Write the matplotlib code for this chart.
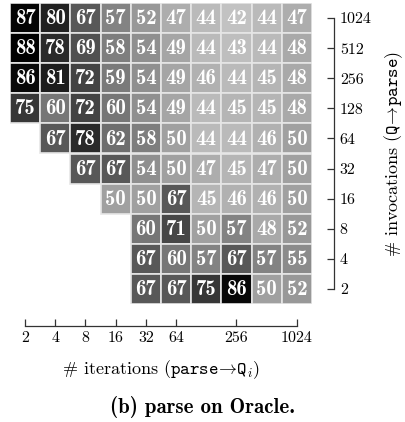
import numpy as np
import matplotlib
matplotlib.use('Agg')
import matplotlib.pyplot as plt

plt.rcParams['font.family'] = 'serif'
plt.rcParams['font.serif'] = ['cmr10']
plt.rcParams['mathtext.fontset'] = 'cm'
plt.rcParams['axes.unicode_minus'] = False

# columns: iterations, rows (top to bottom): invocations
iterations = [2, 4, 8, 16, 32, 64, 128, 256, 512, 1024]
invocations = [1024, 512, 256, 128, 64, 32, 16, 8, 4, 2]
x_tick_labels = ['2', '4', '8', '16', '32', '64', '256', '1024']
nan = np.nan
speedup = [
    [87, 80, 67, 57, 52, 47, 44, 42, 44, 47],
    [88, 78, 69, 58, 54, 49, 44, 43, 44, 48],
    [86, 81, 72, 59, 54, 49, 46, 44, 45, 48],
    [75, 60, 72, 60, 54, 49, 44, 45, 45, 48],
    [nan, 67, 78, 62, 58, 50, 44, 44, 46, 50],
    [nan, nan, 67, 67, 54, 50, 47, 45, 47, 50],
    [nan, nan, nan, 50, 50, 67, 45, 46, 46, 50],
    [nan, nan, nan, nan, 60, 71, 50, 57, 48, 52],
    [nan, nan, nan, nan, 67, 60, 57, 67, 57, 55],
    [nan, nan, nan, nan, 67, 67, 75, 86, 50, 52],
]
vals = np.array(speedup, dtype=float)

cmap = plt.get_cmap('gray_r')
norm = plt.Normalize(vmin=27.5, vmax=88)

fig = plt.figure(figsize=(4.06, 4.22), dpi=100)
ax = fig.add_axes([10/406, 1 - 304/422, 302/406, 301/422])

for r in range(vals.shape[0]):
    for c in range(vals.shape[1]):
        v = vals[r, c]
        if np.isnan(v):
            continue
        ax.bar(c + 0.5, 1, bottom=r, width=1, color=cmap(norm(v)),
               edgecolor='#e6e6e6', linewidth=1.2)
        ax.text(c + 0.5, r + 0.52, '%d' % v, ha='center', va='center',
                color='white', fontsize=15, fontfamily='cmb10')

ax.set_xlim(0, 10)
ax.set_ylim(10, 0)

for s in ['top', 'left']:
    ax.spines[s].set_visible(False)
ax.spines['bottom'].set_position(('outward', 16))
ax.spines['right'].set_position(('outward', 16))
ax.spines['bottom'].set_bounds(0.5, 9.5)
ax.spines['right'].set_bounds(0.5, 9.5)
for s in ['bottom', 'right']:
    ax.spines[s].set_color('#333333')
    ax.spines[s].set_linewidth(0.9)

xpos = [iterations.index(int(t)) + 0.5 for t in x_tick_labels]
ax.set_xticks(xpos)
ax.set_xticklabels(x_tick_labels)
ax.yaxis.tick_right()
ax.yaxis.set_label_position('right')
ax.set_yticks(np.arange(10) + 0.5)
ax.set_yticklabels([str(v) for v in invocations])
ax.tick_params(axis='both', direction='in', length=5, width=0.9,
               color='#333333', labelsize=11.5, pad=4)

ax.set_xlabel(r'$\#$ iterations ($\mathtt{parse}\!\rightarrow\!\mathtt{Q}_i$)',
              fontsize=13, labelpad=9)
ax.set_ylabel(r'$\#$ invocations ($\mathtt{Q}\!\rightarrow\!\mathtt{parse}$)',
              fontsize=13, labelpad=8)

fig.text(0.5, 1 - 407/422, '(b) parse on Oracle.', ha='center', va='center',
         fontsize=15, fontfamily='cmb10')

fig.savefig('out.png', dpi=100)
